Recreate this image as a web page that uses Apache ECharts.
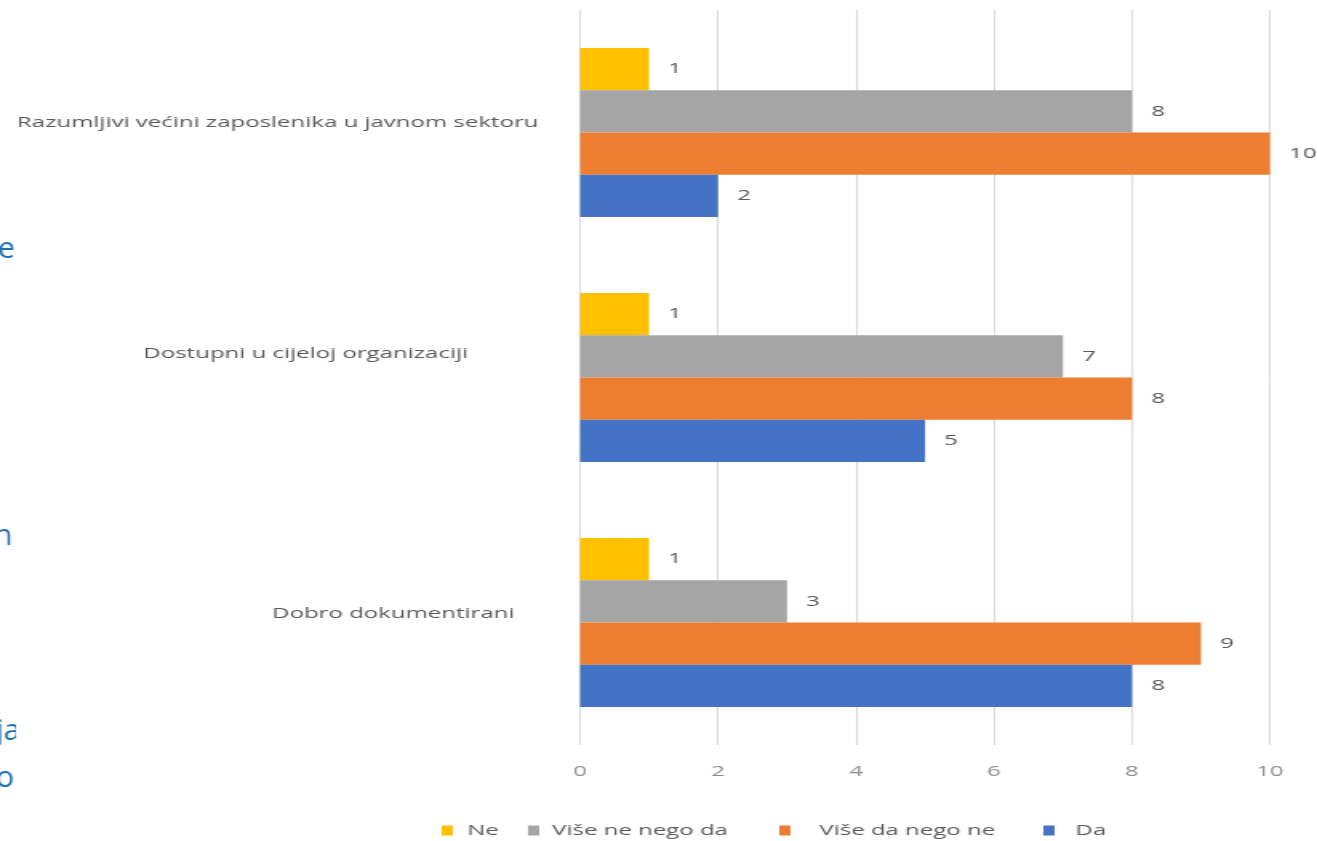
<!DOCTYPE html>
<html>
<head>
<meta charset="utf-8">
<script src="https://cdn.jsdelivr.net/npm/echarts@6/dist/echarts.min.js"></script>
<style>
html,body{margin:0;padding:0;background:#fff;overflow:hidden;width:1317px;height:841px;}
#c{width:823px;height:841px;transform:scaleX(1.6002);transform-origin:0 0;}
</style>
</head>
<body>
<div id="c"></div>
<script>
const categories = ['Razumljivi većini zaposlenika u javnom sektoru', 'Dostupni u cijeloj organizaciji', 'Dobro dokumentirani'];
const seriesNames = ['Ne', 'Više ne nego da', 'Više da nego ne', 'Da'];
const ne = [1, 1, 1];
const viseNeNegoDa = [8, 7, 3];
const viseDaNegoNe = [10, 8, 9];
const da = [2, 5, 8];
const xTicks = [0, 2, 4, 6, 8, 10];
const colors = ['#FFC000', '#A5A5A5', '#ED7D31', '#4472C4'];
const sideFragments = ['e', 'n', 'ja', 'o'];

const S = 1.6002;
const values = [ne, viseNeNegoDa, viseDaNegoNe, da];
const labelRightPad = [18, 62, 33];
const labelLift = [20, 48, 18];
const legendLeft = [271, 325, 482, 647];
const legendTextPad = [4, 3, 13, 8];
const fragPos = [[-2, 234], [-6, 521], [-4, 716], [-4, 763]];

const chart = echarts.init(document.getElementById('c'));
chart.setOption({
  animation: false,
  backgroundColor: '#fff',
  grid: { left: 362.5, right: 29.4, top: 10, bottom: 96, containLabel: false },
  xAxis: {
    type: 'value', min: 0, max: 10, interval: 2,
    axisLine: { show: false }, axisTick: { show: false },
    splitLine: { lineStyle: { color: '#d9d9d9', width: 1 } },
    axisLabel: { color: '#8c8c8c', fontSize: 15, margin: 19, fontFamily: 'Open Sans',
      formatter: v => xTicks.indexOf(v) >= 0 ? String(v) : '' }
  },
  yAxis: {
    type: 'category', inverse: true,
    data: categories.map((c, i) => ({ value: c, textStyle: {
      padding: [0, labelRightPad[i], 0, 0], verticalAlign: 'bottom', lineHeight: labelLift[i] } })),
    axisLine: { show: false }, axisTick: { show: false },
    axisLabel: { color: '#595959', fontSize: 15, margin: 8, fontFamily: 'Open Sans' }
  },
  legend: seriesNames.map((n, i) => ({
    top: 818, left: legendLeft[i], itemWidth: 7, itemHeight: 10, icon: 'rect',
    textStyle: { color: '#595959', fontSize: 15, fontFamily: 'Open Sans', padding: [0, 0, 0, legendTextPad[i]] },
    data: [n]
  })),
  series: seriesNames.map((n, i) => ({
    name: n, type: 'bar', data: values[i], barGap: '0%', barCategoryGap: '31%',
    itemStyle: { color: colors[i] },
    label: { show: true, position: 'right', distance: 12, color: '#595959', fontSize: 15, fontFamily: 'Open Sans' }
  })),
  graphic: sideFragments.map((t, i) => ({
    type: 'text', x: fragPos[i][0] / S, y: fragPos[i][1], scaleX: 1 / S,
    style: { text: t, fill: '#1F6FB2', font: '30px "Open Sans"' }
  })).concat([
    { type: 'rect', x: 16 / S, y: 700, shape: { width: 20 / S, height: 100 }, style: { fill: '#fff' } }
  ])
});
</script>
</body>
</html>
